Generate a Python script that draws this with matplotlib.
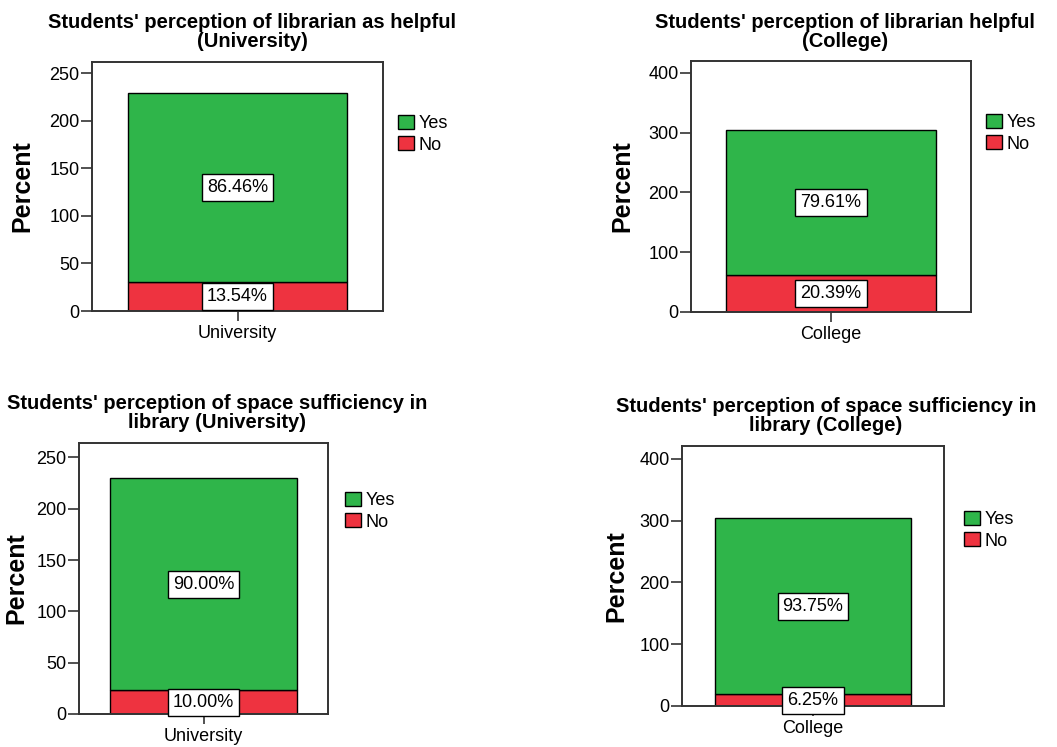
import matplotlib
matplotlib.use('Agg')
import matplotlib.pyplot as plt
from matplotlib.patches import Patch

plt.rcParams['font.family'] = ['Liberation Sans', 'DejaVu Sans']

# counts behind each stacked bar (Yes on top of No)
groups = ['University', 'College', 'University', 'College']
yes_counts = [198, 242, 207, 285]
no_counts = [31, 62, 23, 19]
titles = ["Students' perception of librarian as helpful\n(University)",
          "Students' perception of librarian helpful\n(College)",
          "Students' perception of space sufficiency in\nlibrary (University)",
          "Students' perception of space sufficiency in\nlibrary (College)"]
y_tops = [262, 420, 264, 421]
y_ticks = [[0, 50, 100, 150, 200, 250], [0, 100, 200, 300, 400],
           [0, 50, 100, 150, 200, 250], [0, 100, 200, 300, 400]]

GREEN = '#2fb54a'
RED = '#ee3340'
W, H = 1057, 747

# layout in pixels: axes box (x0, y0, x1, y1), title centre, ylabel x, legend corner
boxes = [(92, 62, 383, 311), (691, 61, 971, 312), (79, 443, 328, 714), (682, 446, 944, 706)]
title_pos = [(252, 32), (845, 32), (217, 413), (826, 416)]
ylab_x = [22, 622, 16, 616]
leg_pos = [(398, 115), (986, 114), (345, 492), (964, 511)]

fig = plt.figure(figsize=(W / 100, H / 100), dpi=100)

for i in range(4):
    x0, y0, x1, y1 = boxes[i]
    ax = fig.add_axes([x0 / W, 1 - y1 / H, (x1 - x0) / W, (y1 - y0) / H])
    yes, no = yes_counts[i], no_counts[i]
    total = yes + no
    ax.bar(0, no, width=0.75, color=RED, edgecolor='black', linewidth=1, zorder=2)
    ax.bar(0, yes, bottom=no, width=0.75, color=GREEN, edgecolor='black', linewidth=1, zorder=2)
    box = dict(boxstyle='square,pad=0.28', fc='white', ec='black', lw=1)
    ax.text(0, no + yes / 2, f'{yes / total * 100:.2f}%', ha='center', va='center',
            fontsize=13, bbox=box, zorder=5, clip_on=False)
    ax.text(0, no / 2, f'{no / total * 100:.2f}%', ha='center', va='center',
            fontsize=13, bbox=box, zorder=5, clip_on=False)

    ax.set_xlim(-0.5, 0.5)
    ax.set_ylim(0, y_tops[i])
    ax.set_xticks([0])
    ax.set_xticklabels([groups[i]])
    ax.set_yticks(y_ticks[i])
    ax.tick_params(axis='y', length=8, width=1.2, color='#333333', labelsize=13, pad=1)
    ax.tick_params(axis='x', length=7, width=1.2, color='#333333', labelsize=13, pad=3)
    for s in ax.spines.values():
        s.set_color('#333333')
        s.set_linewidth(1.4)

    fig.text(ylab_x[i] / W, 1 - (y0 + y1) / 2 / H, 'Percent', rotation=90,
             ha='center', va='center', fontsize=18, fontweight='bold')

    tx, ty = title_pos[i]
    fig.text(tx / W, 1 - ty / H, titles[i], ha='center', va='center',
             fontsize=14.5, fontweight='bold', linespacing=1.0)

    lx, ly = leg_pos[i]
    handles = [Patch(facecolor=GREEN, edgecolor='black', label='Yes'),
               Patch(facecolor=RED, edgecolor='black', label='No')]
    ax.legend(handles=handles, loc='upper left', bbox_to_anchor=(lx / W, 1 - ly / H),
              bbox_transform=fig.transFigure, frameon=False, fontsize=13,
              handlelength=0.9, handleheight=0.85, handletextpad=0.25,
              labelspacing=0.2, borderpad=0, borderaxespad=0)

fig.savefig('out.png', dpi=100)
